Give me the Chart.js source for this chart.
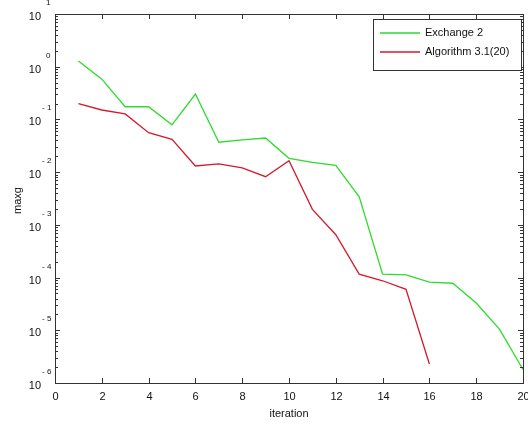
<!DOCTYPE html>
<html>
<head>
<meta charset="utf-8">
<script src="https://cdn.jsdelivr.net/npm/chart.js@4"></script>
<style>
  html, body { margin: 0; padding: 0; background: #fff; }
  #wrap { width: 528px; height: 427px; position: relative; }
</style>
</head>
<body>
<div id="wrap"><canvas id="chart"></canvas></div>
<script>
// values
const iterations = [1, 2, 3, 4, 5, 6, 7, 8, 9, 10, 11, 12, 13, 14, 15, 16, 17, 18, 19, 20];
const exchange2 = [1.28, 0.58, 0.174, 0.174, 0.079, 0.303, 0.037, 0.041, 0.0444, 0.0183,
    0.0153, 0.0135, 0.0034, 1.16e-4, 1.13e-4, 8.2e-5, 7.8e-5, 3.3e-5, 1.04e-5, 1.8e-6];
const algorithm31 = [0.20, 0.151, 0.127, 0.056, 0.042, 0.0131, 0.0143, 0.0120, 0.0082, 0.0164,
    0.00197, 6.5e-4, 1.16e-4, 8.7e-5, 6.0e-5, 2.3e-6, null, null, null, null];
const xTicks = [0, 2, 4, 6, 8, 10, 12, 14, 16, 18, 20];
const yExponents = [1, 0, -1, -2, -3, -4, -5, -6];
const seriesNames = ['Exchange 2', 'Algorithm 3.1(20)'];
const seriesColors = ['#2ddc2d', '#d41a2c'];

const FONT = '"Liberation Sans", Arial, sans-serif';
const AXIS = '#333';

// MATLAB style frame: inward ticks on all four sides, 10^n labels, boxed legend
const matlabAxes = {
    id: 'matlabAxes',
    afterDraw(chart) {
        const { ctx, chartArea: a, scales } = chart;
        const x = scales.x, y = scales.y;
        ctx.save();
        ctx.strokeStyle = AXIS;
        ctx.lineWidth = 1;
        ctx.strokeRect(a.left + 0.5, a.top + 0.5, a.right - a.left, a.bottom - a.top);

        // x ticks + labels
        ctx.fillStyle = '#111';
        ctx.font = '11px ' + FONT;
        ctx.textAlign = 'center';
        ctx.textBaseline = 'middle';
        ctx.beginPath();
        xTicks.forEach(v => {
            const px = Math.round(x.getPixelForValue(v)) + 0.5;
            ctx.moveTo(px, a.bottom); ctx.lineTo(px, a.bottom - 5);
            ctx.moveTo(px, a.top); ctx.lineTo(px, a.top + 5);
            ctx.fillText(String(v), px, a.bottom + 14);
        });

        // y ticks (major + minor) + labels
        yExponents.forEach(e => {
            const base = Math.pow(10, e);
            const py = Math.round(y.getPixelForValue(base)) + 0.5;
            ctx.moveTo(a.left, py); ctx.lineTo(a.left + 5, py);
            ctx.moveTo(a.right, py); ctx.lineTo(a.right - 5, py);
            if (e > -6) {
                for (let m = 2; m <= 9; m++) {
                    const pm = Math.round(y.getPixelForValue(base * m / 10)) + 0.5;
                    ctx.moveTo(a.left, pm); ctx.lineTo(a.left + 3, pm);
                    ctx.moveTo(a.right, pm); ctx.lineTo(a.right - 3, pm);
                }
            }
            ctx.textAlign = 'right';
            ctx.font = '11px ' + FONT;
            ctx.fillText('10', a.left - 14, py + 2);
            ctx.textAlign = 'left';
            ctx.font = '8px ' + FONT;
            ctx.fillText(e < 0 ? '- ' + (-e) : String(e), a.left - 12 + (e < 0 ? -1 : 3), py - 12);
        });
        ctx.stroke();

        // axis titles
        ctx.font = '11px ' + FONT;
        ctx.textAlign = 'center';
        ctx.fillText('iteration', (a.left + a.right) / 2, a.bottom + 31);
        ctx.save();
        ctx.translate(18, (a.top + a.bottom) / 2 + 2);
        ctx.rotate(-Math.PI / 2);
        ctx.fillText('maxg', 0, 0);
        ctx.restore();

        // legend
        const lx = 373, ly = 19, lw = 148, lh = 51;
        ctx.fillStyle = '#fff';
        ctx.fillRect(lx, ly, lw, lh);
        ctx.strokeStyle = AXIS;
        ctx.strokeRect(lx + 0.5, ly + 0.5, lw, lh);
        seriesNames.forEach((name, i) => {
            const yy = ly + 14 + i * 19;
            ctx.strokeStyle = seriesColors[i];
            ctx.lineWidth = 1.3;
            ctx.beginPath();
            ctx.moveTo(lx + 7, yy); ctx.lineTo(lx + 47, yy);
            ctx.stroke();
            ctx.fillStyle = '#111';
            ctx.textAlign = 'left';
            ctx.fillText(name, lx + 52, yy);
        });
        ctx.restore();
    }
};

new Chart(document.getElementById('chart'), {
    type: 'line',
    data: {
        labels: iterations,
        datasets: [
            { label: seriesNames[0], data: exchange2, borderColor: seriesColors[0] },
            { label: seriesNames[1], data: algorithm31, borderColor: seriesColors[1] }
        ].map(d => Object.assign(d, {
            borderWidth: 1.3, pointRadius: 0, tension: 0, fill: false, spanGaps: false
        }))
    },
    options: {
        responsive: true,
        maintainAspectRatio: false,
        animation: false,
        layout: { padding: { left: 55, right: 5, top: 14, bottom: 44 } },
        plugins: { legend: { display: false }, tooltip: { enabled: false } },
        scales: {
            x: { type: 'linear', min: 0, max: 20, display: false },
            y: { type: 'logarithmic', min: 1e-6, max: 10, display: false }
        }
    },
    plugins: [matlabAxes]
});
</script>
</body>
</html>
